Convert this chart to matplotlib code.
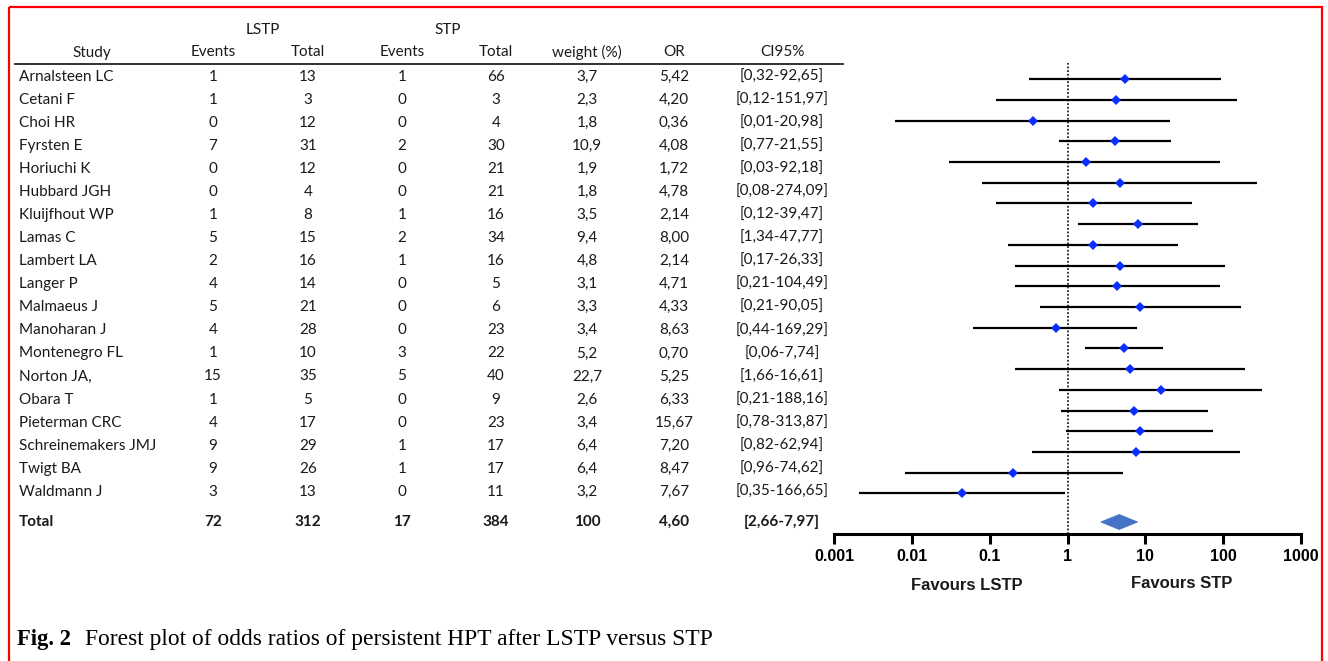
import matplotlib
matplotlib.use("Agg")
import matplotlib.pyplot as plt
from matplotlib.patches import Polygon, Rectangle
import numpy as np

# ---------------- data ----------------
studies = ["Arnalsteen LC", "Cetani F", "Choi HR", "Fyrsten E", "Horiuchi K", "Hubbard JGH",
           "Kluijfhout WP", "Lamas C", "Lambert LA", "Langer P", "Malmaeus J", "Manoharan J",
           "Montenegro FL", "Norton JA,", "Obara T", "Pieterman CRC", "Schreinemakers JMJ",
           "Twigt BA", "Waldmann J"]
lstp_events = [1, 1, 0, 7, 0, 0, 1, 5, 2, 4, 5, 4, 1, 15, 1, 4, 9, 9, 3]
lstp_total = [13, 3, 12, 31, 12, 4, 8, 15, 16, 14, 21, 28, 10, 35, 5, 17, 29, 26, 13]
stp_events = [1, 0, 0, 2, 0, 0, 1, 2, 1, 0, 0, 0, 3, 5, 0, 0, 1, 1, 0]
stp_total = [66, 3, 4, 30, 21, 21, 16, 34, 16, 5, 6, 23, 22, 40, 9, 23, 17, 17, 11]
weight = ["3,7", "2,3", "1,8", "10,9", "1,9", "1,8", "3,5", "9,4", "4,8", "3,1", "3,3", "3,4",
          "5,2", "22,7", "2,6", "3,4", "6,4", "6,4", "3,2"]
or_text = ["5,42", "4,20", "0,36", "4,08", "1,72", "4,78", "2,14", "8,00", "2,14", "4,71", "4,33",
           "8,63", "0,70", "5,25", "6,33", "15,67", "7,20", "8,47", "7,67"]
ci_text = ["[0,32-92,65]", "[0,12-151,97]", "[0,01-20,98]", "[0,77-21,55]", "[0,03-92,18]",
           "[0,08-274,09]", "[0,12-39,47]", "[1,34-47,77]", "[0,17-26,33]", "[0,21-104,49]",
           "[0,21-90,05]", "[0,44-169,29]", "[0,06-7,74]", "[1,66-16,61]", "[0,21-188,16]",
           "[0,78-313,87]", "[0,82-62,94]", "[0,96-74,62]", "[0,35-166,65]"]
total_row = ["Total", "72", "312", "17", "384", "100", "4,60", "[2,66-7,97]"]

# values drawn in the forest plot (21 lines as in the picture)
plot_or = [5.42, 4.20, 0.36, 4.08, 1.72, 4.78, 2.14, 8.00, 2.14, 4.71, 4.33, 8.63, 0.70, 5.25,
           6.33, 15.67, 7.20, 8.47, 7.67, 0.20, 0.044]
plot_lo = [0.32, 0.12, 0.006, 0.77, 0.03, 0.08, 0.12, 1.34, 0.17, 0.21, 0.21, 0.44, 0.06, 1.66,
           0.21, 0.78, 0.82, 0.96, 0.35, 0.008, 0.0021]
plot_hi = [92.65, 151.97, 20.98, 21.55, 92.18, 274.09, 39.47, 47.77, 26.33, 104.49, 90.05,
           169.29, 7.74, 16.61, 188.16, 313.87, 62.94, 74.62, 166.65, 5.1, 0.92]
total_or, total_lo, total_hi = 4.60, 2.66, 7.97
xticks = [0.001, 0.01, 0.1, 1, 10, 100, 1000]
xtick_labels = ["0.001", "0.01", "0.1", "1", "10", "100", "1000"]
caption_bold = "Fig. 2"
caption_text = "Forest plot of odds ratios of persistent HPT after LSTP versus STP"

# ---------------- figure ----------------
W, H = 1328, 661
fig = plt.figure(figsize=(W / 100, H / 100), dpi=100)
fig.patch.set_facecolor("white")

# full-figure axes in pixel coordinates for table and frame
tab = fig.add_axes([0, 0, 1, 1])
tab.set_xlim(0, W)
tab.set_ylim(H, 0)
tab.axis("off")

tab.add_patch(Rectangle((8.5, 7), 1313, 700, fill=False, edgecolor="#FF0000", lw=1.6))

tfont = dict(family=["Lato", "DejaVu Sans"], fontsize=11, color="#1a1a1a")
col_x = [213, 308, 402, 496, 587, 674, 782]
name_x = 19
row0, drow = 76.7, 23.06

tab.text(263, 30, "LSTP", ha="center", va="center", **tfont)
tab.text(448, 30, "STP", ha="center", va="center", **tfont)
headers = ["Events", "Total", "Events", "Total", "weight (%)", "OR", "CI95%"]
tab.text(92, 52.5, "Study", ha="center", va="center", **tfont)
for x, h in zip(col_x, headers):
    tab.text(x, 52.5, h, ha="center", va="center", **tfont)
tab.plot([15, 843], [63.5, 63.5], color="#222222", lw=1.3)

for i, name in enumerate(studies):
    y = row0 + i * drow
    tab.text(name_x, y, name, ha="left", va="center", **tfont)
    vals = [lstp_events[i], lstp_total[i], stp_events[i], stp_total[i], weight[i], or_text[i], ci_text[i]]
    for x, v in zip(col_x, vals):
        tab.text(x, y, str(v), ha="center", va="center", **tfont)

ty = 522
tab.text(name_x, ty, total_row[0], ha="left", va="center", fontweight="bold", **tfont)
for x, v in zip(col_x, total_row[1:]):
    tab.text(x, ty, v, ha="center", va="center", fontweight="bold", **tfont)

# caption
cb = tab.text(17, 645, caption_bold, ha="left", va="baseline", family="Liberation Serif",
              fontweight="bold", fontsize=16.3, color="black")
fig.canvas.draw()
bb = cb.get_window_extent(renderer=fig.canvas.get_renderer())
tab.text(bb.x1 + 14, 645, caption_text, ha="left", va="baseline", family="Liberation Serif",
         fontsize=16.9, color="black")

# ---------------- forest plot ----------------
x0, x1 = 834.3, 1301.0
ytop, ybot = 63.0, 534.3
ax = fig.add_axes([x0 / W, 1 - ybot / H, (x1 - x0) / W, (ybot - ytop) / H])
ax.set_xscale("log")
ax.set_xlim(0.001, 1000)
prow0, pdrow = 79.3, 20.7
ax.set_ylim((ybot - prow0) / pdrow, (ytop - prow0) / pdrow)
ax.patch.set_alpha(0)

ax.axvline(1, color="black", lw=1.1, ls=(0, (1.2, 1.2)), zorder=1)
ys = np.arange(len(plot_or))
ax.hlines(ys, plot_lo, plot_hi, color="black", lw=1.6, zorder=2)
ax.plot(plot_or, ys, ls="none", marker="D", markersize=5.4, color="#0A2EFF",
        markeredgewidth=0, zorder=3)

yt = (522 - prow0) / pdrow
hh = 7.5 / pdrow
ax.add_patch(Polygon([(total_lo, yt), (total_or, yt - hh), (total_hi, yt), (total_or, yt + hh)],
                     closed=True, facecolor="#4472C4", edgecolor="#4472C4", lw=0.5, zorder=3))

for s in ["left", "right", "top"]:
    ax.spines[s].set_visible(False)
ax.spines["bottom"].set_linewidth(2.2)
ax.spines["bottom"].set_color("black")
ax.set_yticks([])
ax.set_xticks(xticks)
ax.set_xticklabels(xtick_labels, family="Liberation Sans", fontweight="bold", fontsize=11.5)
ax.xaxis.set_minor_locator(matplotlib.ticker.NullLocator())
ax.tick_params(axis="x", direction="out", length=7.5, width=2.2, pad=3, color="black")

fig.text(966.7 / W, 1 - 586 / H, "Favours LSTP", ha="center", va="center",
         family="Liberation Sans", fontweight="bold", fontsize=12, color="#1a1a1a")
fig.text(1181.7 / W, 1 - 583.5 / H, "Favours STP", ha="center", va="center",
         family="Liberation Sans", fontweight="bold", fontsize=12, color="#1a1a1a")

fig.savefig("out.png", dpi=100, facecolor="white")
